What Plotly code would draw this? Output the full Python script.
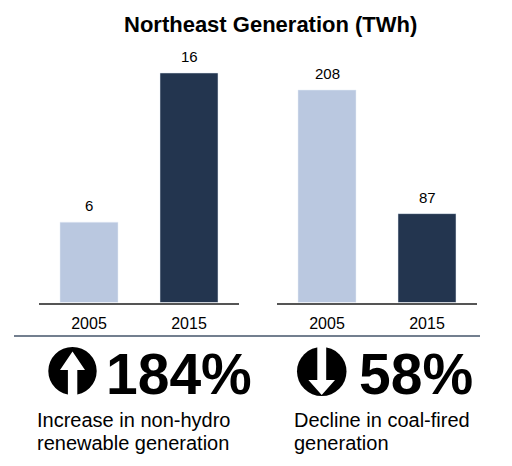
import plotly.graph_objects as go

# values (TWh)
years = ["2005", "2015"]
renewables = [5.6, 16.0]
coal = [208, 87]
bar_colors = ["#BAC8E0", "#23354F"]

title = "Northeast Generation (TWh)"
renew_change = "184%"
coal_change = "58%"
renew_caption = ["Increase in non-hydro", "renewable generation"]
coal_caption = ["Decline in coal-fired", "generation"]

FONT = "Liberation Sans, Arial, sans-serif"
W, H = 512, 466


def px(x):
    return x / W


def py(y):
    return 1 - y / H


fig = go.Figure()
fig.add_trace(go.Bar(x=years, y=renewables, marker_color=bar_colors,
                     xaxis="x", yaxis="y", hoverinfo="skip"))
fig.add_trace(go.Bar(x=years, y=coal, marker_color=bar_colors,
                     xaxis="x2", yaxis="y2", hoverinfo="skip"))

annotations = []
# value labels above bars
for xa, ya, vals in [("x", "y", renewables), ("x2", "y2", coal)]:
    for i, v in enumerate(vals):
        annotations.append(dict(x=i, y=v, xref=xa, yref=ya, text=f"{v:.0f}",
                                showarrow=False, yanchor="bottom", yshift=6,
                                font=dict(size=15, color="#000000", family=FONT)))

P = dict(xref="paper", yref="paper", yanchor="middle", showarrow=False)
annotations.append(dict(x=px(270.5), y=py(25), text=f"<b>{title}</b>",
                        font=dict(size=22, color="#000000", family=FONT), **P))
annotations.append(dict(x=px(104), y=py(374), text=f"<b>{renew_change}</b>",
                        xanchor="left", font=dict(size=57, color="#000000", family=FONT), **P))
annotations.append(dict(x=px(357), y=py(374), text=f"<b>{coal_change}</b>",
                        xanchor="left", font=dict(size=57, color="#000000", family=FONT), **P))
for x0, lines in [(35, renew_caption), (291.5, coal_caption)]:
    for i, line in enumerate(lines):
        annotations.append(dict(x=px(x0), y=py(420 + 23 * i), text=line,
                                xanchor="left", font=dict(size=20, color="#000000", family=FONT), **P))


def path(points):
    return "M " + " L ".join(f"{px(a):.5f} {py(b):.5f}" for a, b in points) + " Z"


up_arrow = [(72.5, 351.5), (85, 370), (77.3, 370), (77.3, 396), (67.9, 396), (67.9, 370), (60, 370)]
down_arrow = [(321.7, 395), (335, 380), (326.2, 380), (326.2, 346), (317.3, 346), (317.3, 380), (308.4, 380)]

S = dict(xref="paper", yref="paper")
shapes = [
    dict(type="line", x0=px(14), x1=px(480), y0=py(336), y1=py(336),
         line=dict(color="#44546A", width=1.5), **S),
    dict(type="circle", x0=px(48.3), x1=px(96.7), y0=py(395), y1=py(347),
         fillcolor="#000000", line_width=0, **S),
    dict(type="path", path=path(up_arrow), fillcolor="#FFFFFF", line_width=0, **S),
    dict(type="circle", x0=px(297), x1=px(346.5), y0=py(396), y1=py(347),
         fillcolor="#000000", line_width=0, **S),
    dict(type="path", path=path(down_arrow), fillcolor="#FFFFFF", line_width=0, **S),
]

xstyle = dict(type="category", showline=True, linecolor="#555555", linewidth=1.5, showgrid=False,
              zeroline=False, automargin=False, ticks="", ticklabelstandoff=6,
              tickfont=dict(size=16, color="#000000", family=FONT), fixedrange=True)
ystyle = dict(visible=False, showgrid=False, zeroline=False, automargin=False, fixedrange=True)

fig.update_layout(
    width=W, height=H,
    margin=dict(l=0, r=0, t=0, b=0, autoexpand=False),
    paper_bgcolor="#FFFFFF", plot_bgcolor="rgba(0,0,0,0)",
    showlegend=False, bargap=0.42,
    xaxis=dict(domain=[px(39), px(239)], anchor="y", **xstyle),
    yaxis=dict(domain=[py(302.5), py(40)], range=[0, 18.3], anchor="x", **ystyle),
    xaxis2=dict(domain=[px(277), px(477)], anchor="y2", **xstyle),
    yaxis2=dict(domain=[py(302.5), py(40)], range=[0, 257], anchor="x2", **ystyle),
    annotations=annotations,
    shapes=shapes,
)

fig.write_html("out.html", config={"displayModeBar": False},
               post_script="document.body.style.margin='0';")
